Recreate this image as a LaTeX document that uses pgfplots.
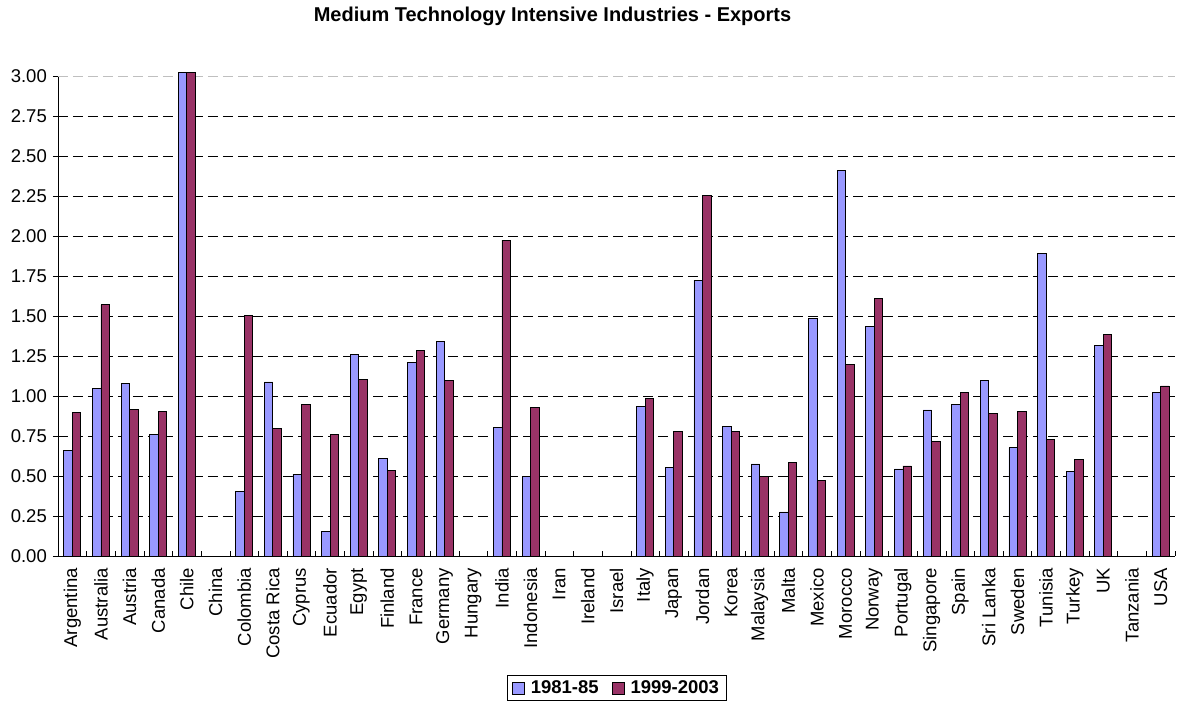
\documentclass[border=0pt]{standalone}
\usepackage{fontspec}
\setmainfont{Liberation Sans}
\usepackage{pgfplots}
\pgfplotsset{compat=1.18}
\usetikzlibrary{calc}
\definecolor{cA}{HTML}{9999FF}
\definecolor{cB}{HTML}{993366}
\begin{document}
\begin{tikzpicture}[x=1pt,y=1pt]
\begin{axis}[
  scale only axis, width=1117pt, height=480pt,
  ybar=0pt, bar width=8.5pt,
  xmin=-0.5, xmax=38.5, ymin=0, ymax=3,
  clip=false,
  axis x line=bottom, axis y line=left,
  axis line style={-, black, line width=0.8pt},
  xtick={0,...,38},
  xticklabels={Argentina,Australia,Austria,Canada,Chile,China,Colombia,Costa Rica,Cyprus,Ecuador,Egypt,Finland,France,Germany,Hungary,India,Indonesia,Iran,Ireland,Israel,Italy,Japan,Jordan,Korea,Malaysia,Malta,Mexico,Morocco,Norway,Portugal,Singapore,Spain,Sri Lanka,Sweden,Tunisia,Turkey,UK,Tanzania,USA},
  xticklabel style={rotate=90, anchor=east, font=\fontsize{18.5}{21}\selectfont, inner sep=0pt, xshift=-12pt},
  major x tick style={draw=none},
  minor xtick={-0.5,0.5,...,38.5},
  minor x tick style={black, line width=0.6pt},
  minor tick length=5pt,
  tick align=inside,
  ytick={0,0.25,...,2.76},
  extra y ticks={3},
  extra y tick style={grid style={black!25, dash pattern=on 10pt off 5pt, line width=0.8pt}},
  ymajorgrids,
  grid style={black, dash pattern=on 10pt off 5pt, line width=0.8pt},
  major y tick style={black, line width=0.6pt, xshift=-5pt},
  major tick length=5pt,
  yticklabel style={font=\fontsize{18.5}{21}\selectfont, /pgf/number format/fixed, /pgf/number format/fixed zerofill, /pgf/number format/precision=2, inner sep=0pt, xshift=-11pt},
  /pgf/number format/assume math mode=true,
  legend style={at={(0.5,-0.275)}, anchor=center, legend columns=2, draw=black, line width=0.8pt, font=\bfseries\fontsize{18.5}{21}\selectfont, inner xsep=5pt, inner ysep=3pt,
    /tikz/every odd column/.append style={column sep=4pt},
    /tikz/every even column/.append style={column sep=11pt}},
  legend image code/.code={\draw[#1, line width=0.8pt] (0pt,-6pt) rectangle (12pt,6pt);},
]
\addplot[fill=cA, draw=black, line width=0.8pt] coordinates {
(0,0.657) (1,1.045) (2,1.080) (3,0.761) (4,3.02)
(6,0.402) (7,1.088) (8,0.511) (9,0.156) (10,1.257) (11,0.609)
(12,1.211) (13,1.339) (15,0.805) (16,0.498)
(20,0.936) (21,0.555) (22,1.724) (23,0.811) (24,0.575)
(25,0.275) (26,1.482) (27,2.412) (28,1.432) (29,0.544)
(30,0.913) (31,0.949) (32,1.097) (33,0.676) (34,1.893)
(35,0.527) (36,1.314) (38,1.020)
};
\addplot[fill=cB, draw=black, line width=0.8pt] coordinates {
(0,0.896) (1,1.570) (2,0.917) (3,0.905) (4,3.02)
(6,1.501) (7,0.796) (8,0.947) (9,0.761) (10,1.105) (11,0.536)
(12,1.282) (13,1.099) (15,1.974) (16,0.928)
(20,0.986) (21,0.776) (22,2.252) (23,0.778) (24,0.498)
(25,0.586) (26,0.471) (27,1.199) (28,1.612) (29,0.563)
(30,0.717) (31,1.024) (32,0.892) (33,0.903) (34,0.726)
(35,0.605) (36,1.387) (38,1.063)
};
\legend{1981-85,1999-2003}
\coordinate (O) at (axis cs:-0.5,0);
\end{axis}
\useasboundingbox ($(O)+(-58,-150)$) rectangle ($(O)+(1121,556)$);
\node[anchor=base,font=\bfseries\fontsize{20}{24}\selectfont,inner sep=0pt] at ($(O)+(494.5,534)$) {Medium Technology Intensive Industries - Exports};
\end{tikzpicture}
\end{document}
